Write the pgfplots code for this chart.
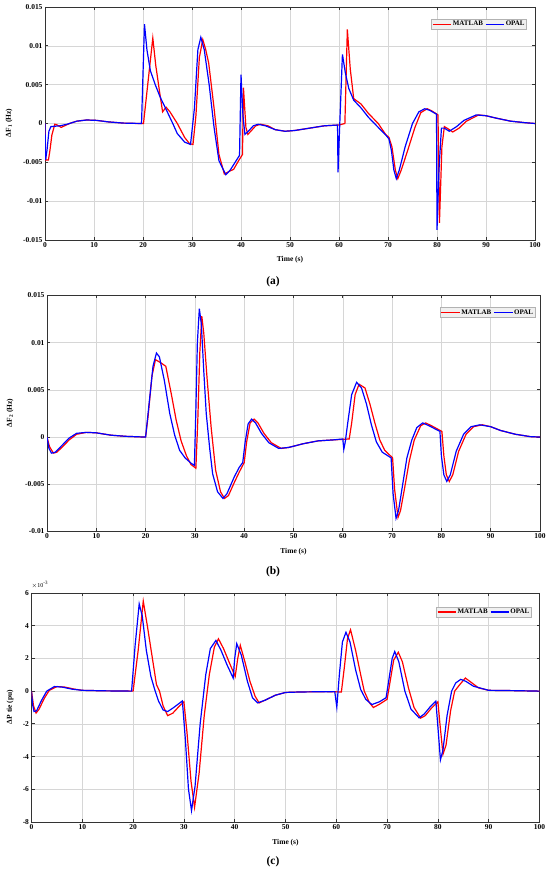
\documentclass[border=0pt]{standalone}
\usepackage{fontspec}
\setmainfont{Liberation Serif}
\usepackage{pgfplots}
\pgfplotsset{compat=1.18}
\definecolor{mred}{RGB}{255,0,0}
\definecolor{mblue}{RGB}{0,0,255}
\pgfplotsset{legend image code/.code={\draw[#1] (0bp,0bp) -- (18.5bp,0bp);}}
\begin{document}
\begin{tikzpicture}[x=1bp,y=1bp]
\path[use as bounding box] (0,0) rectangle (550,872);
\pgfplotsset{
  myax/.style={scale only axis, anchor=south west,
    xmin=0, xmax=100, xtick={0,10,...,100},
    scaled y ticks=false, scaled x ticks=false,
    grid=major, major grid style={draw=black!16, line width=0.6bp},
    axis line style={draw=black!80, line width=0.9bp},
    tick style={draw=black!80, line width=0.8bp},
    major tick length=3bp, tick pos=both, tick align=inside,
    ticklabel style={font=\fontsize{7.5}{8}\selectfont\bfseries},
    /pgf/number format/assume math mode=true,
    xticklabel style={yshift=1bp},
    yticklabel style={xshift=1bp},
    legend columns=2, legend cell align=left,
    legend style={draw=black!30, fill=black!6, line width=0.5bp,
      font=\fontsize{7}{7}\selectfont\bfseries, inner xsep=1bp, inner ysep=1.2bp,
      nodes={inner sep=0.8bp},
      /tikz/every even column/.append style={column sep=1.5bp}},
    every axis plot/.append style={line width=1.2bp},
  }
}
% ---------------- (a) ----------------
\begin{axis}[myax, at={(45bp,632bp)}, width=490bp, height=233bp,
  ymin=-0.015, ymax=0.015, ytick={-0.015,-0.01,-0.005,0,0.005,0.01,0.015},
  yticklabels={-0.015,-0.01,-0.005,0,0.005,0.01,0.015},
  legend style={at={(rel axis cs:0.983,0.949)}, anchor=north east}]
\addplot[mred] coordinates {
(0,0) (0.15,-0.0047) (0.7,-0.0047) (1.0,-0.0035) (1.4,-0.0015) (2.0,-0.0001) (2.5,-0.0002)
(3.3,-0.0005) (4.0,-0.0003) (5.0,0.0000) (6.5,0.0003) (8.5,0.00045) (10.5,0.0004) (13,0.0002)
(16,0.00005) (19,0) (20.1,0) (22.0,0.0110) (22.6,0.0075) (23.4,0.0040) (24.0,0.0015) (24.7,0.0021)
(25.5,0.0015) (27.0,0.0000) (28.5,-0.0018) (29.5,-0.0026) (30.2,-0.0027) (30.8,0.0010) (31.5,0.0085)
(32.2,0.0108) (32.8,0.0095) (33.4,0.0078) (34.5,0.0020) (35.5,-0.0040) (36.6,-0.0065) (37.5,-0.0062)
(38.5,-0.0059) (39.5,-0.0048) (40.3,-0.0040) (40.5,0.0046) (41.0,-0.0005) (41.4,-0.0014) (42.0,-0.0010)
(43.0,-0.0003) (44.0,-0.0001) (45.5,-0.0003) (47.0,-0.0008) (49.0,-0.0010) (51.0,-0.0009) (54.0,-0.0006)
(57.0,-0.0003) (60.0,-0.0002) (61.2,0.0000) (61.7,0.0121) (62.3,0.0070) (63.0,0.0032) (64.5,0.0025)
(66.0,0.0013) (68.0,0.0000) (69.5,-0.0014) (70.2,-0.0018) (70.8,-0.0030) (71.5,-0.0060) (72.0,-0.0071)
(72.7,-0.0060) (74.0,-0.0035) (75.5,-0.0005) (76.7,0.0014) (78.0,0.0019) (79.0,0.0016) (80.2,0.0011)
(80.5,-0.0128) (81.0,-0.0030) (81.5,-0.0004) (82.3,-0.0007) (83.2,-0.0011) (84.5,-0.0006) (86.0,0.0003)
(88.5,0.0011) (90.0,0.0010) (92.0,0.0007) (95.0,0.0003) (98.0,0.0001) (100,0)
};
\addlegendentry{MATLAB}
\addplot[mblue] coordinates {
(0,0) (0.1,-0.0047) (0.4,-0.0035) (0.8,-0.0010) (1.2,-0.0004) (3.0,-0.0003) (4.5,-0.0001)
(6.5,0.0003) (8.5,0.00045) (10.5,0.0004) (13,0.0002) (16,0.00005) (19.7,0) (20.3,0.0128)
(20.8,0.0095) (21.5,0.0068) (22.5,0.0050) (23.5,0.0034) (24.8,0.0017) (26.0,0.0001) (27.0,-0.0013)
(28.5,-0.0024) (29.7,-0.0027) (30.5,0.0020) (31.2,0.0095) (31.8,0.0111) (32.5,0.0095) (33.5,0.0050)
(34.5,-0.0005) (35.5,-0.0048) (36.9,-0.0066) (37.8,-0.0060) (39.0,-0.0048) (39.7,-0.0041) (40.0,0.0063)
(40.4,0.0010) (40.8,-0.0014) (41.5,-0.0010) (42.5,-0.0003) (43.5,-0.0001) (45.0,-0.0003) (47.0,-0.0008)
(49,-0.0010) (51.0,-0.0009) (54.0,-0.0006) (57.0,-0.0003) (59.7,-0.0002) (59.8,-0.0063) (60.1,-0.0010)
(60.7,0.0089) (61.3,0.0065) (62.0,0.0045) (63.0,0.0030) (64.5,0.0020) (66.0,0.0008) (68.0,-0.0005)
(69.7,-0.0016) (70.2,-0.0020) (70.7,-0.0035) (71.2,-0.0060) (71.7,-0.0071) (72.3,-0.0060) (73.5,-0.0030)
(75.0,0.0000) (76.3,0.0015) (77.5,0.0019) (78.5,0.0017) (79.9,0.0012) (80.0,-0.0137) (80.4,-0.0060)
(80.9,-0.0006) (81.5,-0.0006) (82.5,-0.0010) (84.0,-0.0004) (85.5,0.0004) (88.0,0.0011) (90.0,0.0010)
(92,0.0007) (95,0.0003) (98,0.0001) (100,0)
};
\addlegendentry{OPAL}
\end{axis}
% ---------------- (b) ----------------
\begin{axis}[myax, at={(47bp,340.5bp)}, width=493bp, height=236bp,
  ymin=-0.01, ymax=0.015, ytick={-0.01,-0.005,0,0.005,0.01,0.015},
  yticklabels={-0.01,-0.005,0,0.005,0.01,0.015},
  legend style={at={(rel axis cs:0.99,0.95)}, anchor=north east}]
\addplot[mred] coordinates {
(0,0) (0.5,-0.0010) (1.3,-0.0017) (2.0,-0.0016) (3.0,-0.0011) (4.5,-0.0003) (6.0,0.0003) (8.0,0.0005)
(10,0.00045) (13,0.0002) (16,0.00008) (20,0) (20.5,0.0022) (21.3,0.0065) (22.0,0.0082) (23.0,0.0079)
(24.1,0.0075) (25.2,0.0046) (26.2,0.0018) (27.2,-0.0004) (28.3,-0.0020) (29.2,-0.0029) (30.2,-0.0033)
(30.6,0.0020) (31.0,0.0090) (31.4,0.0128) (31.8,0.0110) (32.5,0.0060) (33.3,0.0010) (34.2,-0.0035)
(35.2,-0.0058) (36.0,-0.0065) (36.8,-0.0062) (38.0,-0.0048) (39.0,-0.0037) (40.0,-0.0027) (40.5,-0.0005)
(41.2,0.0015) (42.0,0.0019) (42.8,0.0015) (44.0,0.0004) (45.5,-0.0006) (47.5,-0.0012) (49,-0.0011)
(52,-0.0007) (55,-0.0004) (58,-0.0003) (61.3,-0.0002) (61.8,0.0015) (62.5,0.0045) (63.3,0.0056)
(64.5,0.0052) (65.5,0.0035) (66.5,0.0015) (67.5,-0.0003) (68.5,-0.0014) (69.5,-0.0019) (70.1,-0.0022)
(70.5,-0.0055) (71.2,-0.0085) (71.7,-0.0078) (72.5,-0.0055) (73.5,-0.0025) (74.5,-0.0003) (75.8,0.0012)
(76.8,0.0015) (78,0.0012) (80.1,0.0006) (80.5,-0.0020) (81.0,-0.0040) (81.6,-0.0047) (82.3,-0.0040)
(83.5,-0.0015) (85,0.0003) (86.5,0.0011) (88.3,0.0013) (90,0.0011) (92,0.0007) (95,0.0003) (98,0.00005) (100,0)
};
\addlegendentry{MATLAB}
\addplot[mblue] coordinates {
(0,0) (0.4,-0.0012) (0.9,-0.0017) (1.7,-0.0016) (3,-0.0009) (4.5,-0.0001) (6,0.0004) (8,0.0005)
(10,0.00045) (13,0.0002) (16,0.00008) (20,0) (20.8,0.0040) (21.5,0.0075) (22.2,0.0089) (22.8,0.0085)
(23.8,0.0060) (24.9,0.0025) (25.9,0.0002) (26.9,-0.0014) (28.0,-0.0022) (29.3,-0.0028) (29.9,-0.0030)
(30.2,0.0030) (30.5,0.0100) (30.9,0.0136) (31.3,0.0120) (31.8,0.0070) (32.3,0.0025) (33.0,-0.0012)
(33.6,-0.0039) (34.6,-0.0058) (35.7,-0.0065) (36.5,-0.0060) (38.0,-0.0042) (39.0,-0.0032) (39.7,-0.0027)
(40.2,-0.0005) (40.8,0.0014) (41.5,0.0019) (42.3,0.0015) (43.5,0.0004) (45,-0.0006) (47,-0.0012)
(49,-0.0011) (52,-0.0007) (55,-0.0004) (58,-0.0003) (60.0,-0.0002) (60.2,-0.0013) (60.5,-0.0005)
(61.0,0.0015) (61.8,0.0045) (62.8,0.0058) (63.8,0.0052) (64.8,0.0035) (65.8,0.0013) (66.8,-0.0005)
(68.0,-0.0016) (69.2,-0.0020) (69.8,-0.0022) (70.2,-0.0060) (70.8,-0.0086) (71.3,-0.0078) (72.0,-0.0055)
(73.0,-0.0022) (74.0,-0.0003) (75.0,0.0010) (76.2,0.0015) (77.5,0.0012) (79.7,0.0006) (80.0,-0.0020)
(80.5,-0.0040) (81.1,-0.0047) (81.8,-0.0040) (83.0,-0.0015) (84.5,0.0003) (86,0.0011) (87.8,0.0013)
(90,0.0011) (92,0.0007) (95,0.0003) (98,0.00005) (100,0)
};
\addlegendentry{OPAL}
\end{axis}
% ---------------- (c) ----------------
\begin{axis}[myax, at={(31.5bp,50bp)}, width=508bp, height=229bp,
  ymin=-8, ymax=6, ytick={-8,-6,-4,-2,0,2,4,6},
  yticklabels={-8,-6,-4,-2,0,2,4,6},
  legend style={at={(rel axis cs:0.984,0.94)}, anchor=north east}]
\addplot[mred] coordinates {
(0,0) (0.4,-0.9) (0.9,-1.34) (1.5,-1.1) (2.5,-0.45) (3.5,0.05) (5.0,0.28) (6.5,0.25) (8.5,0.12)
(10,0.05) (14,0.02) (20,0) (21.0,2.5) (22.0,5.5) (22.8,4.0) (23.8,2.0) (24.6,0.4) (25.2,0.0)
(25.9,-0.9) (26.8,-1.5) (27.8,-1.35) (29.0,-0.95) (30.0,-0.65) (30.6,-2.5) (31.4,-5.5) (32.1,-7.1)
(33.0,-5.0) (34.0,-1.5) (35.0,1.0) (36.0,2.7) (36.8,3.2) (37.8,2.6) (39.0,1.7) (40.1,0.9) (40.6,2.0)
(41.1,2.8) (42.0,1.8) (43.0,0.6) (44.0,-0.3) (44.8,-0.72) (46,-0.55) (48,-0.25) (50,-0.08) (53,-0.05)
(58,-0.03) (61,-0.05) (61.6,1.5) (62.2,3.2) (62.8,3.75) (63.8,2.5) (64.8,1.0) (65.5,0.0) (66.5,-0.7)
(67.3,-1.0) (68.5,-0.8) (70.0,-0.5) (70.6,0.6) (71.3,1.9) (72.2,2.38) (73.0,1.8) (74.2,0.2) (75.3,-1.0)
(76.6,-1.65) (77.5,-1.5) (78.7,-1.05) (80.0,-0.65) (80.4,-2.0) (81.0,-3.86) (81.6,-3.3) (82.5,-1.2)
(83.3,0.0) (84.3,0.4) (85.4,0.8) (86.5,0.55) (88,0.2) (90,0.05) (95,0.03) (100,0)
};
\addlegendentry{MATLAB}
\addplot[mblue] coordinates {
(0,0) (0.2,-0.8) (0.5,-1.25) (1.0,-1.2) (2.0,-0.55) (3.0,0.0) (4.5,0.28) (6,0.25) (8,0.12) (10,0.05)
(14,0.02) (19.7,0) (20.4,2.8) (21.2,5.33) (21.8,4.6) (22.6,2.5) (23.5,0.9) (24.3,0.05) (25.0,-0.6)
(25.9,-1.15) (26.8,-1.25) (28.0,-1.0) (29.7,-0.6) (30.3,-3.0) (30.9,-6.0) (31.5,-7.3) (32.2,-5.8)
(33.2,-2.0) (34.3,1.0) (35.2,2.6) (36.3,3.1) (37.3,2.5) (38.5,1.6) (39.7,0.8) (40.0,2.0) (40.4,2.9)
(41.3,2.2) (42.5,0.6) (43.5,-0.4) (44.5,-0.72) (46,-0.55) (48,-0.25) (50,-0.08) (53,-0.05) (59.7,-0.03)
(60.1,-0.98) (60.6,1.0) (61.2,3.0) (61.9,3.6) (62.7,3.0) (63.8,1.3) (64.8,0.1) (65.8,-0.5) (67.0,-0.82)
(68.5,-0.65) (69.8,-0.4) (70.4,0.8) (71.0,2.0) (71.5,2.42) (72.3,1.8) (73.5,0.0) (74.7,-1.1) (76.3,-1.63)
(77.3,-1.4) (78.5,-0.95) (79.6,-0.61) (80.0,-2.2) (80.5,-4.2) (81.0,-3.6) (81.8,-1.5) (82.7,0.0)
(83.5,0.5) (84.5,0.72) (85.5,0.6) (87,0.3) (90,0.05) (95,0.03) (100,0)
};
\addlegendentry{OPAL}
\end{axis}
% labels
\begin{scope}[every node/.style={font=\fontsize{7.5}{8}\selectfont\bfseries, inner sep=0pt}]
\node[rotate=90] at (9,749) {ΔF\textsubscript{1} (Hz)};
\node[rotate=90] at (10,459) {ΔF\textsubscript{2} (Hz)};
\node[rotate=90] at (10,165) {ΔP tie (pu)};
\node at (290,612) {Time (s)};
\node at (293.5,320) {Time (s)};
\node at (285.5,29) {Time (s)};
\node[anchor=west, font=\fontsize{6}{6}\selectfont] at (31.5,287) {$\times$10\textsuperscript{-3}};
\end{scope}
\begin{scope}[every node/.style={font=\fontsize{11.5}{12}\selectfont\bfseries, inner sep=0pt}]
\node at (273,590) {(a)};
\node at (273,300) {(b)};
\node at (273,10) {(c)};
\end{scope}
\end{tikzpicture}
\end{document}
